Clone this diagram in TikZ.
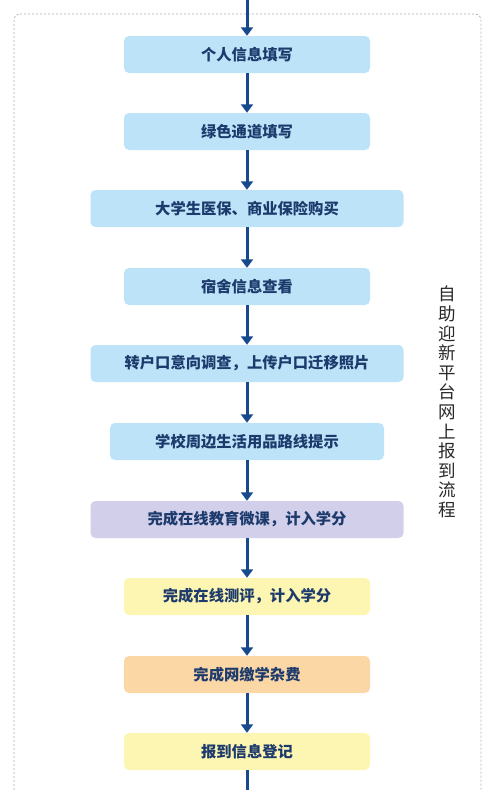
\documentclass[tikz,border=0pt]{standalone}
\usepackage{fontspec}
\usepackage{tikz}
\usetikzlibrary{arrows.meta,positioning}
\newfontfamily\cjk{Noto Sans CJK SC}
\definecolor{flowblue}{RGB}{188,227,248}
\definecolor{flowpurple}{RGB}{210,207,234}
\definecolor{floworange}{RGB}{252,215,166}
\definecolor{flowyellow}{RGB}{253,246,178}
\definecolor{flowtext}{RGB}{28,58,108}
\definecolor{flowarrow}{RGB}{22,74,140}
\definecolor{framegray}{RGB}{175,175,175}
\definecolor{titlegray}{RGB}{40,40,40}

\begin{document}
\begin{tikzpicture}[x=1pt, y=-1pt,
    box/.style={rounded corners=5pt, minimum height=37pt, inner sep=0pt, text=flowtext, font=\cjk\fontsize{15.3}{17}\selectfont\bfseries},
    narrow/.style={box, minimum width=246pt},
    mid/.style={box, minimum width=274pt},
    wide/.style={box, minimum width=313pt},
    arrow/.style={-{Triangle[width=12pt, length=8.5pt]}, line width=3pt, flowarrow}
]
\useasboundingbox (0,0) rectangle (486,790);

% Frame
\draw[framegray, line width=0.8pt, dash pattern=on 2pt off 2pt, rounded corners=6pt] (14,14) -- (481,14) -- (481,810) -- (14,810) -- cycle;

% Steps
\coordinate (start) at (247,0);
\node[narrow, fill=flowblue] (info) at (247,54.5) {个人信息填写};
\node[narrow, fill=flowblue] (green) at (247,131.5) {绿色通道填写};
\node[wide, fill=flowblue] (insure) at (247,208.5) {大学生医保、商业保险购买};
\node[narrow, fill=flowblue] (dorm) at (247,286.5) {宿舍信息查看};
\node[wide, fill=flowblue] (hukou) at (247,363.5) {转户口意向调查，上传户口迁移照片};
\node[mid, fill=flowblue] (route) at (247,441.5) {学校周边生活用品路线提示};
\node[wide, fill=flowpurple] (course) at (247,519.5) {完成在线教育微课，计入学分};
\node[narrow, fill=flowyellow] (test) at (247,596.5) {完成在线测评，计入学分};
\node[narrow, fill=floworange] (fees) at (247,674.5) {完成网缴学杂费};
\node[narrow, fill=flowyellow] (register) at (247,751.5) {报到信息登记};
\coordinate (end) at (247,790);

\draw[arrow] (start) -- (info);
\draw[arrow] (info) -- (green);
\draw[arrow] (green) -- (insure);
\draw[arrow] (insure) -- (dorm);
\draw[arrow] (dorm) -- (hukou);
\draw[arrow] (hukou) -- (route);
\draw[arrow] (route) -- (course);
\draw[arrow] (course) -- (test);
\draw[arrow] (test) -- (fees);
\draw[arrow] (fees) -- (register);
\draw[line width=3pt, flowarrow] (register) -- (end);

% Side title
\node[font=\cjk\fontsize{17.5}{19.6}\selectfont, text=titlegray, align=center, inner sep=0pt] (title) at (447,402) {自\\助\\迎\\新\\平\\台\\网\\上\\报\\到\\流\\程};

\end{tikzpicture}
\end{document}
